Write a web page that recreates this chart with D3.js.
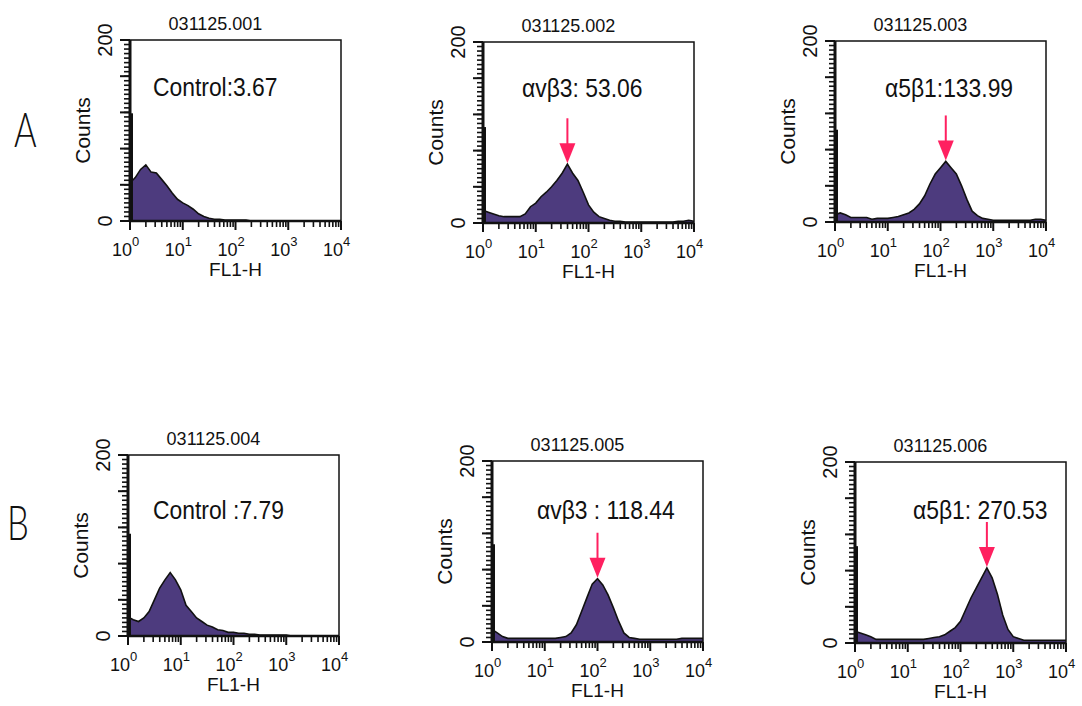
<!DOCTYPE html>
<html>
<head>
<meta charset="utf-8">
<script src="https://cdn.jsdelivr.net/npm/d3@7"></script>
<style>
body { margin: 0; background: #fff; }
text { font-family: "Liberation Sans", Arial, sans-serif; fill: #111; }
</style>
</head>
<body>
<svg width="1082" height="706"></svg>
<script>
// FL1-H channels, log10 steps of 0.1 from 10^0 to 10^4
var fl1Log = d3.range(0, 41).map(function(i) { return i / 10; });

var titles = ["031125.001", "031125.002", "031125.003", "031125.004", "031125.005", "031125.006"];
var notes = ["Control:3.67", "\u03b1v\u03b23: 53.06", "\u03b15\u03b21:133.99",
             "Control :7.79", "\u03b1v\u03b23 : 118.44", "\u03b15\u03b21: 270.53"];
var rowLabels = ["A", "B"];

var counts001 = [42,48,57,62,54,53,46,39,31,24,20,17,13,8,5,3,2,2,1,1,1,1,1,0,0,0,0,0,0,0,0,0,0,0,0,0,0,0,0,0,0];
var counts002 = [14,12,10,8,7,7,7,7,10,18,22,29,34,40,47,55,65,55,47,34,20,12,7,5,3,2,2,1,1,1,1,1,1,1,1,1,1,2,2,3,2];
var counts003 = [8,10,8,5,5,5,5,3,4,4,4,5,6,8,10,14,20,29,42,53,60,67,60,53,40,25,12,7,4,3,2,2,2,2,2,2,2,2,3,3,2];
var counts004 = [21,18,16,20,27,40,53,62,70,62,51,34,27,20,16,12,10,7,6,4,4,3,3,2,2,1,1,1,1,1,1,0,0,0,0,0,0,0,0,0,0];
var counts005 = [14,10,6,4,4,4,4,4,4,4,4,4,4,5,6,10,19,34,49,64,70,63,52,38,23,10,5,4,3,3,3,3,3,3,3,3,4,4,4,4,4];
var counts006 = [13,11,9,7,4,4,4,4,4,4,4,4,4,4,5,6,7,9,13,17,24,37,50,61,72,83,72,54,31,15,7,5,3,3,3,3,3,3,3,3,3];
var allCounts = [counts001, counts002, counts003, counts004, counts005, counts006];

// first-channel pile-up at 10^0
var firstChannel = [119, 106, 102, 113, 108, 107];

// red arrows: peak position (log10) and count at the tip
var arrowLog = [null, 1.6, 2.1, null, 2.0, 2.5];
var arrowTip = [null, 66, 68, null, 71, 84];

var yMinor = d3.range(0, 201, 5);
var yMajor = [0, 40, 80, 120, 160, 200];
var xMajor = [1, 10, 100, 1000, 10000];

// layout
var boxes = [[130, 40], [483, 42], [835, 41], [128, 455], [492, 461], [855, 462]];
var noteOffset = [[23, 56], [39, 55], [50, 56], [25, 64], [45, 58], [58, 57]];
var W = 211, H = 181;

var svg = d3.select("svg");

svg.selectAll(".row")
    .data(rowLabels)
    .enter().append("text")
    .attr("class", "row")
    .attr("transform", function(d, i) { return i == 0 ? "translate(14,147) scale(0.72,1)" : "translate(7,540) scale(0.72,1)"; })
    .style("font-family", "Lato, Roboto, sans-serif")
    .style("font-weight", 300)
    .style("font-size", "48px")
    .text(function(d) { return d; });

function drawPanel(i) {
    var g = svg.append("g").attr("transform", "translate(" + boxes[i][0] + "," + boxes[i][1] + ")");
    var x = d3.scaleLog().domain([1, 1e4]).range([0, W]);
    var y = d3.scaleLinear().domain([0, 200]).range([H, 0]);

    var pts = fl1Log.map(function(v, k) { return [Math.pow(10, v), allCounts[i][k]]; });

    var area = d3.area()
        .x(function(d) { return x(d[0]); })
        .y0(H)
        .y1(function(d) { return y(d[1]); });
    var line = d3.line()
        .x(function(d) { return x(d[0]); })
        .y(function(d) { return y(d[1]); });

    g.append("path").attr("d", area(pts)).attr("fill", "#4d3b7e");
    g.append("path").attr("d", line(pts)).attr("fill", "none").attr("stroke", "#111").attr("stroke-width", 1.6);

    g.append("rect")
        .attr("width", W).attr("height", H)
        .attr("fill", "none").attr("stroke", "#111").attr("stroke-width", 1.5);

    // spike in the first channel
    g.append("rect")
        .attr("x", x(1)).attr("y", y(firstChannel[i]))
        .attr("width", 3).attr("height", H - y(firstChannel[i]))
        .attr("fill", "#111");

    // y ticks: minor every 5, major every 40
    g.selectAll(".ymin").data(yMinor).enter().append("rect")
        .attr("class", "ymin")
        .attr("x", -6).attr("y", function(d) { return y(d) - 0.8; })
        .attr("width", 6).attr("height", 1.6)
        .attr("fill", "#111");
    g.selectAll(".ymaj").data(yMajor).enter().append("rect")
        .attr("class", "ymaj")
        .attr("x", -10).attr("y", function(d) { return y(d) - 1; })
        .attr("width", 10).attr("height", 2)
        .attr("fill", "#111");
    g.append("rect").attr("x", -1.5).attr("y", 0).attr("width", 3).attr("height", H).attr("fill", "#111");

    // x ticks: log decades with minor ticks
    var minors = [];
    xMajor.slice(0, 4).forEach(function(p) {
        for (var m = 2; m < 10; m++) minors.push(m * p);
    });
    g.selectAll(".xmin").data(minors).enter().append("rect")
        .attr("class", "xmin")
        .attr("x", function(d) { return x(d) - 0.8; }).attr("y", H)
        .attr("width", 1.6).attr("height", 6)
        .attr("fill", "#111");
    g.selectAll(".xmaj").data(xMajor).enter().append("rect")
        .attr("class", "xmaj")
        .attr("x", function(d) { return x(d) - 1; }).attr("y", H)
        .attr("width", 2).attr("height", 9)
        .attr("fill", "#111");
    g.append("rect").attr("x", 0).attr("y", H - 1.25).attr("width", W).attr("height", 2.5).attr("fill", "#111");

    xMajor.forEach(function(v, p) {
        var tx = x(v);
        g.append("text").attr("x", tx + 2).attr("y", H + 35)
            .attr("text-anchor", "end").style("font-size", "18px").text("10");
        g.append("text").attr("x", tx + 2).attr("y", H + 25)
            .style("font-size", "13px").text(p);
    });

    [0, 200].forEach(function(v) {
        g.append("text")
            .attr("transform", "translate(-25," + y(v) + ") rotate(-90)")
            .attr("text-anchor", "middle").attr("dy", "0.35em")
            .style("font-size", "20px").text(v);
    });

    g.append("text")
        .attr("transform", "translate(-47," + (H / 2) + ") rotate(-90)")
        .attr("text-anchor", "middle").attr("dy", "0.35em")
        .style("font-size", "21px").text("Counts");

    g.append("text").attr("x", W / 2).attr("y", H + 55)
        .attr("text-anchor", "middle").style("font-size", "19px").text("FL1-H");

    g.append("text").attr("x", W / 2 - 20).attr("y", -10)
        .attr("text-anchor", "middle").style("font-size", "18px").text(titles[i]);

    g.append("text")
        .attr("transform", "translate(" + noteOffset[i][0] + "," + noteOffset[i][1] + ") scale(0.88,1)")
        .style("font-size", "26px").text(notes[i]);

    if (arrowLog[i] != null) {
        var ax = x(Math.pow(10, arrowLog[i]));
        var ty = y(arrowTip[i]);
        g.append("rect").attr("x", ax - 1).attr("y", ty - 45).attr("width", 2).attr("height", 30)
            .attr("fill", "#ff2060");
        g.append("path")
            .attr("d", "M" + (ax - 8) + "," + (ty - 20) + "L" + (ax + 8) + "," + (ty - 20) + "L" + ax + "," + ty + "Z")
            .attr("fill", "#ff2060");
    }
}

for (var i = 0; i < 6; i++) drawPanel(i);
</script>
</body>
</html>
